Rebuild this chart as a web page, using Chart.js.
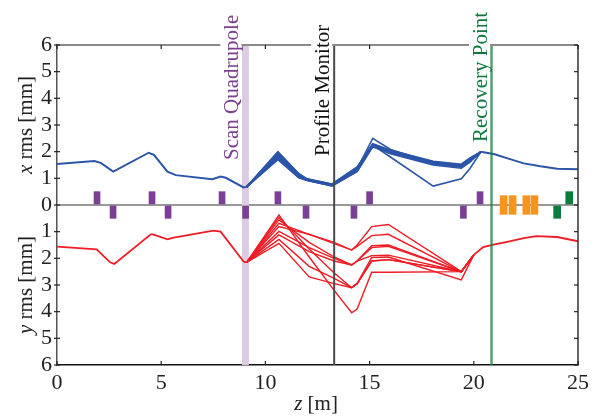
<!DOCTYPE html>
<html>
<head>
<meta charset="utf-8">
<script src="https://cdn.jsdelivr.net/npm/chart.js@4"></script>
<style>
  body { margin: 0; background: #fff; }
  #wrap { width: 595px; height: 418px; }
</style>
</head>
<body>
<div id="wrap"><canvas id="myChart"></canvas></div>
<script>
// z positions [m] and rms sizes [mm]
const zBaseX = [0, 1.8, 2.1, 2.7, 4.4, 4.65, 5.3, 5.7, 7.45, 7.85, 8.1, 8.95, 9.1];
const xRmsBase = [1.54, 1.65, 1.58, 1.25, 1.96, 1.88, 1.25, 1.12, 0.97, 1.07, 1.02, 0.66, 0.68];

const zScanX = [9.1, 10.6, 11.6, 12.0, 13.2, 14.4, 15.15, 16.0, 18.05, 19.4, 19.8, 20.35];
const xRmsScan = [
  [0.68, 1.70, 1.02, 0.92, 0.72, 1.25, 2.18, 1.92, 1.50, 1.38, 1.60, 2.0],
  [0.68, 1.74, 1.04, 0.93, 0.72, 1.27, 2.20, 1.95, 1.54, 1.42, 1.65, 2.0],
  [0.68, 1.78, 1.06, 0.93, 0.73, 1.29, 2.22, 1.97, 1.56, 1.45, 1.68, 2.0],
  [0.68, 1.81, 1.08, 0.94, 0.74, 1.31, 2.24, 1.99, 1.58, 1.47, 1.70, 2.0],
  [0.68, 1.85, 1.10, 0.95, 0.75, 1.33, 2.26, 2.01, 1.60, 1.49, 1.72, 2.0],
  [0.68, 1.89, 1.12, 0.95, 0.76, 1.35, 2.50, 2.08, 1.58, 1.46, 1.70, 2.0],
  [0.68, 1.93, 1.14, 0.96, 0.77, 1.37, 2.25, 1.80, 0.71, 0.98, 1.35, 2.0],
  [0.68, 1.96, 1.16, 0.97, 0.78, 1.40, 2.28, 2.03, 1.62, 1.51, 1.74, 2.0],
  [0.68, 2.00, 1.18, 0.98, 0.79, 1.43, 2.30, 2.05, 1.64, 1.53, 1.76, 2.0]
];
const zTailX = [20.35, 21.0, 21.7, 22.4, 23.2, 24.0, 25.0];
const xRmsTail = [2.0, 1.9, 1.73, 1.56, 1.45, 1.36, 1.34];

const zBaseY = [0, 1.9, 2.55, 2.75, 4.5, 4.6, 5.3, 5.6, 7.5, 7.85, 8.95, 9.1];
const yRmsBase = [1.56, 1.66, 2.15, 2.21, 1.1, 1.1, 1.29, 1.22, 0.96, 1.0, 2.12, 2.15];

const zScanY = [9.1, 10.65, 12.1, 13.3, 14.14, 14.4, 15.1, 15.9, 19.4, 20.0];
const yRmsScan = [
  [2.15, 0.37, 1.95, 3.2, 4.04, 3.9, 2.52, 2.52, 2.5, 1.87],
  [2.15, 0.46, 1.65, 2.55, 3.1, 2.95, 2.1, 2.05, 2.5, 1.87],
  [2.15, 0.56, 1.4, 1.95, 2.25, 2.1, 1.6, 1.55, 2.5, 1.87],
  [2.15, 0.69, 1.1, 1.45, 1.69, 1.5, 0.81, 0.73, 2.5, 1.87],
  [2.15, 0.81, 1.1, 1.4, 1.69, 1.55, 1.15, 1.1, 2.5, 1.87],
  [2.15, 0.99, 1.6, 2.0, 2.25, 2.1, 1.53, 1.5, 2.5, 1.87],
  [2.15, 1.12, 1.75, 2.1, 2.25, 2.1, 1.9, 1.88, 2.5, 1.87],
  [2.15, 1.29, 2.3, 2.75, 3.1, 2.95, 1.97, 1.95, 2.81, 1.87],
  [2.15, 1.44, 2.7, 2.95, 3.1, 2.95, 2.1, 2.05, 2.5, 1.87]
];
const zTailY = [20.0, 20.45, 21.0, 21.6, 22.4, 23.0, 24.0, 25.0];
const yRmsTail = [1.87, 1.58, 1.48, 1.38, 1.24, 1.17, 1.2, 1.36];

// beamline elements (z of centre)
const quadUp = [1.92, 4.56, 7.92, 10.6, 15.0, 20.3];
const quadDown = [2.69, 5.33, 9.05, 11.95, 14.25, 19.5];
const orangeMag = [21.43, 21.86, 22.52, 22.91];
const greenUp = [24.58];
const greenDown = [24.0];

const markerNames = ['Scan Quadrupole', 'Profile Monitor', 'Recovery Point'];
const markerZ = [9.04, 13.3, 20.85];

const xTicks = [0, 5, 10, 15, 20, 25];

const BLUE = '#2b55a8';
const RED = '#ee1c25';
const FONT = "'Liberation Serif', 'Times New Roman', serif";

function pts(zs, vs, sign) {
  return zs.map((z, i) => ({ x: z, y: sign * vs[i] }));
}
function curve(zs, vs, sign, color, w) {
  return { type: 'line', data: pts(zs, vs, sign), borderColor: color, borderWidth: w,
           pointRadius: 0, tension: 0, fill: false, order: 5 };
}
function blocks(zs, lo, hi, color, w) {
  return { type: 'bar', data: zs.map(z => ({ x: z, y: [lo, hi] })), backgroundColor: color,
           barThickness: w, grouped: false, order: 3 };
}
function vline(z, color, w, order) {
  return { type: 'line', data: [{ x: z, y: -6 }, { x: z, y: 6 }], borderColor: color,
           borderWidth: w, pointRadius: 0, order: order };
}

const datasets = [];
datasets.push(vline(markerZ[0], '#dccbe2', 7, 20));
datasets.push(vline(markerZ[1], '#4a4a4a', 2, 1));
datasets.push(vline(markerZ[2], 'rgba(20,130,60,0.75)', 2.5, 1));
datasets.push(curve(zBaseX, xRmsBase, 1, BLUE, 2));
xRmsScan.forEach(v => datasets.push(curve(zScanX, v, 1, BLUE, 1.6)));
datasets.push(curve(zTailX, xRmsTail, 1, BLUE, 2));
datasets.push(curve(zBaseY, yRmsBase, -1, RED, 1.8));
yRmsScan.forEach(v => datasets.push(curve(zScanY, v, -1, RED, 1.4)));
datasets.push(curve(zTailY, yRmsTail, -1, RED, 1.8));
datasets.push(blocks(quadUp, 0, 0.5, '#7b3f98', 6));
datasets.push(blocks(quadDown, -0.5, 0, '#7b3f98', 6));
datasets.push(blocks(orangeMag, -0.35, 0.35, '#f7941d', 7));
datasets.push(blocks(greenUp, 0, 0.5, '#0a7d3b', 7));
datasets.push(blocks(greenDown, -0.5, 0, '#0a7d3b', 7));

function richText(ctx, parts, cx, cy, angle, size) {
  ctx.save();
  ctx.translate(cx, cy);
  ctx.rotate(angle);
  let total = 0;
  parts.forEach(p => {
    ctx.font = (p.it ? 'italic ' : '') + size + 'px ' + FONT;
    p.w = ctx.measureText(p.t).width;
    total += p.w;
  });
  let x0 = -total / 2;
  ctx.textBaseline = 'middle';
  ctx.textAlign = 'left';
  ctx.fillStyle = '#222';
  parts.forEach(p => {
    ctx.font = (p.it ? 'italic ' : '') + size + 'px ' + FONT;
    ctx.fillText(p.t, x0, 0);
    x0 += p.w;
  });
  ctx.restore();
}

const decor = {
  id: 'decor',
  afterDraw(chart) {
    const { ctx, chartArea: a, scales: { x, y } } = chart;
    ctx.save();
    const seg = (x1, y1, x2, y2) => { ctx.beginPath(); ctx.moveTo(x1, y1); ctx.lineTo(x2, y2); ctx.stroke(); };
    ctx.lineWidth = 2; ctx.strokeStyle = '#8a8a8a';
    seg(a.left, a.top, a.right, a.top);
    ctx.lineWidth = 1.5; ctx.strokeStyle = '#333';
    seg(a.right, a.top, a.right, a.bottom);
    ctx.lineWidth = 1.2; ctx.strokeStyle = '#222';
    xTicks.forEach(v => {
      const px = x.getPixelForValue(v);
      seg(px, a.top, px, a.top + 4);
      seg(px, a.bottom, px, a.bottom - 4);
    });
    y.ticks.forEach(t => {
      const py = y.getPixelForValue(t.value);
      seg(a.left - 3, py, a.left + 3, py);
      seg(a.right, py, a.right - 4, py);
    });

    // element labels, on a white box that breaks the top frame
    const colors = ['#7b3f8f', '#111', '#0b7a3c'];
    const offs = [7, 5, 4.5];
    const starts = [160, 156, 142];
    ctx.font = '21px ' + FONT;
    ctx.textAlign = 'left';
    ctx.textBaseline = 'alphabetic';
    markerNames.forEach((name, i) => {
      const w = ctx.measureText(name).width;
      ctx.save();
      ctx.translate(x.getPixelForValue(markerZ[i]) - offs[i], starts[i]);
      ctx.rotate(-Math.PI / 2);
      ctx.fillStyle = '#fff';
      ctx.fillRect(-1, -18, w + 2, 21);
      ctx.fillStyle = colors[i];
      ctx.fillText(name, 0, 0);
      ctx.restore();
    });

    // axis titles
    richText(ctx, [{ t: 'x', it: true }, { t: ' rms [mm]' }], 26, 125, -Math.PI / 2, 21);
    richText(ctx, [{ t: 'y', it: true }, { t: ' rms [mm]' }], 26, 285, -Math.PI / 2, 21);
    richText(ctx, [{ t: 'z', it: true }, { t: ' [m]' }], 316, 404, 0, 21);
    ctx.restore();
  }
};

new Chart(document.getElementById('myChart'), {
  type: 'line',
  data: { datasets: datasets },
  options: {
    responsive: true,
    maintainAspectRatio: false,
    animation: false,
    devicePixelRatio: 1,
    layout: { padding: { top: 45, right: 17, left: 0, bottom: 0 } },
    plugins: { legend: { display: false }, tooltip: { enabled: false } },
    scales: {
      x: {
        type: 'linear', min: 0, max: 25, offset: false,
        afterBuildTicks: s => { s.ticks = xTicks.map(v => ({ value: v })); },
        afterFit: s => { s.height = 53; },
        ticks: { font: { family: FONT, size: 22 }, color: '#222', padding: 5, maxRotation: 0, autoSkip: false },
        grid: { display: true, drawOnChartArea: false, drawTicks: false },
        border: { color: '#111', width: 1.5 }
      },
      y: {
        type: 'linear', min: -6, max: 6,
        afterFit: s => { s.width = 57; },
        ticks: { stepSize: 1, autoSkip: false, font: { family: FONT, size: 22 }, color: '#222', padding: 5,
                 callback: v => Math.abs(v) },
        grid: { drawTicks: false, lineWidth: 2,
                color: c => (c.tick && c.tick.value === 0 ? '#999' : 'rgba(0,0,0,0)') },
        border: { color: '#555', width: 1.5 }
      }
    }
  },
  plugins: [decor]
});
</script>
</body>
</html>
